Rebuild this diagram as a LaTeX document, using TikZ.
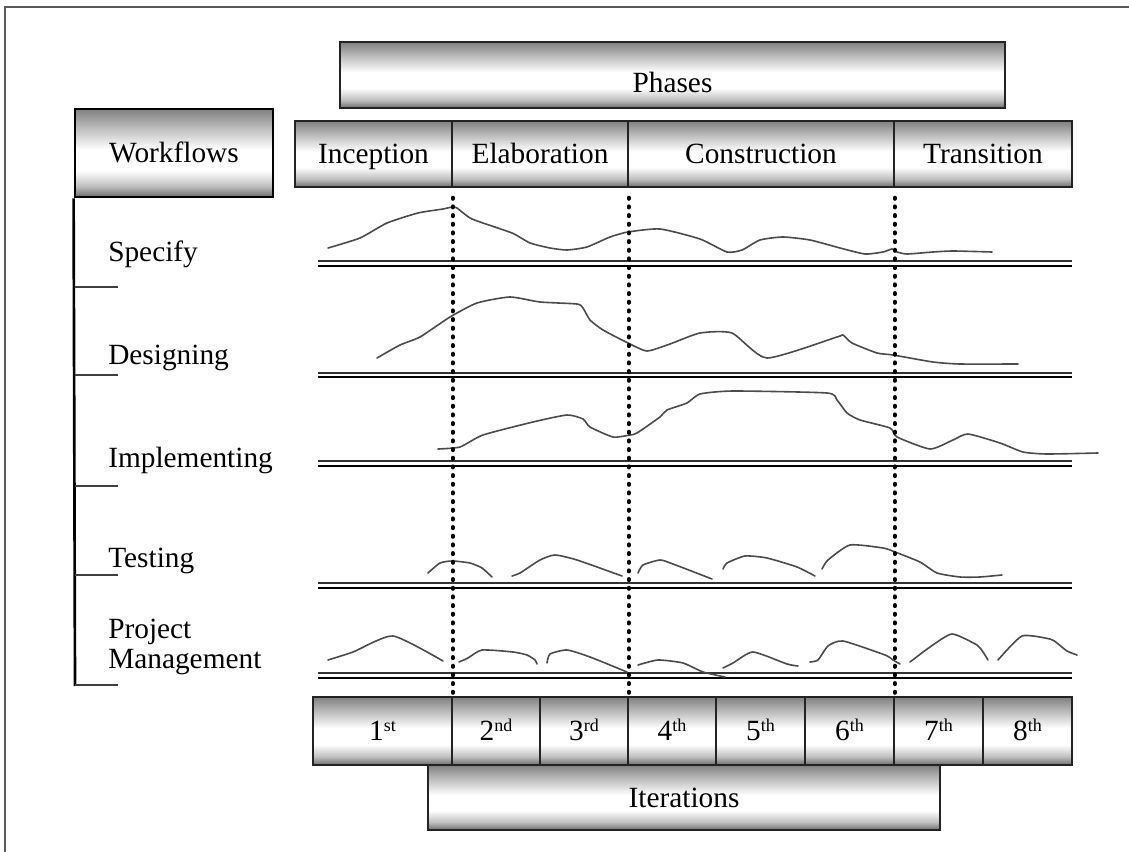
\documentclass[tikz,border=0pt]{standalone}
\usepackage{fontspec}
\setmainfont{Liberation Serif}
\usetikzlibrary{calc}

\definecolor{metaltop}{RGB}{128,128,128}
\definecolor{metalmid}{RGB}{190,190,190}
\definecolor{metalbot}{RGB}{108,108,108}
\definecolor{edge}{RGB}{35,35,35}
\definecolor{ink}{RGB}{75,75,75}
\definecolor{frame}{RGB}{90,90,90}

% brushed-metal look: dark at top and bottom, white band just below the middle
\pgfdeclareverticalshading{metal}{100bp}{color(0bp)=(metalbot); color(25bp)=(metalbot); color(31bp)=(metalmid); color(40bp)=(white); color(52bp)=(white); color(64bp)=(metalmid); color(75bp)=(metaltop); color(100bp)=(metaltop)}

\newcommand{\ordn}[2]{#1\raisebox{7pt}{\fontsize{13.5}{13.5}\selectfont #2}}

\tikzset{
  sz/.style 2 args={minimum width={#1*0.75pt}, minimum height={#2*0.75pt}},
  metalbox/.style={draw=edge, line width=1.1pt, shading=metal, inner sep=0pt,
                   font=\fontsize{22}{24}\selectfont, text height=15pt, text depth=0.4pt},
  headbox/.style={metalbox, line width=2.1pt, draw=black},
  boxtext/.style={font=\fontsize{22}{24}\selectfont, inner sep=0pt, text height=15pt, text depth=0.4pt},
  wflabel/.style={font=\fontsize{22}{23}\selectfont, inner sep=0pt},
  railtop/.style={draw=black!80, line width=1.1pt},
  railbot/.style={draw=black, line width=2pt},
  tick/.style={draw=black!75, line width=0.9pt},
  spine/.style={draw=black, line width=2pt},
  effort/.style={draw=ink, line width=1.2pt, line join=round, line cap=round},
  phasedots/.style={draw=black, line width=3pt, line cap=round, dash pattern=on 0.8pt off 5.7pt},
}

\begin{document}
\begin{tikzpicture}[x=0.75pt, y=-0.75pt]
\useasboundingbox (0,0) rectangle (1129,852);

% outer frame (top and left edges)
\draw[frame, line width=1pt] (5,852) -- (5,7) -- (1129,7);

% header boxes
\node[metalbox, sz={665}{66}] (phases) at (672.5,75) {};
\node[boxtext] (phasestext) at (672.5,83) {Phases};
\node[headbox, sz={198}{88}] (workflows) at (174,153) {Workflows};

% phase row
\node[metalbox, sz={157}{66}] (inc) at (373.5,154) {Inception};
\node[metalbox, sz={176}{66}] (ela) at (540,154) {Elaboration};
\node[metalbox, sz={266}{66}] (con) at (761,154) {Construction};
\node[metalbox, sz={178}{66}] (tra) at (983,154) {Transition};

% iteration row
\node[metalbox, sz={139}{68}] (it1) at (382.5,731) {\ordn{1}{st}};
\node[metalbox, sz={88}{68}] (it2) at (496,731) {\ordn{2}{nd}};
\node[metalbox, sz={88}{68}] (it3) at (584,731) {\ordn{3}{rd}};
\node[metalbox, sz={88}{68}] (it4) at (672,731) {\ordn{4}{th}};
\node[metalbox, sz={89}{68}] (it5) at (760.5,731) {\ordn{5}{th}};
\node[metalbox, sz={89}{68}] (it6) at (849.5,731) {\ordn{6}{th}};
\node[metalbox, sz={89}{68}] (it7) at (938.5,731) {\ordn{7}{th}};
\node[metalbox, sz={89}{68}] (it8) at (1027.5,731) {\ordn{8}{th}};
\node[metalbox, sz={512}{65}] (iters) at (684,797.5) {Iterations};

% workflow spine with ticks
\coordinate (spineend) at (75,686);
\draw[spine] (workflows.south west) -- (spineend);
\foreach \ty in {287,375,486,575,685}
  \draw[tick] (75,\ty) -- (118,\ty);

% workflow labels
\node[wflabel, anchor=base west] (lspec) at (108,262) {Specify};
\node[wflabel, anchor=base west] (ldes) at (108,365) {Designing};
\node[wflabel, anchor=base west] (limp) at (108,467) {Implementing};
\node[wflabel, anchor=base west] (ltest) at (108,567) {Testing};
\node[wflabel, anchor=west, align=left] (lpm) at (108,647) {Project\\Management};

% base rails of each workflow
\foreach \ya/\yb in {261/266, 373/377, 461/466, 583/588, 673/678} {
  \draw[railtop] (318,\ya) -- (1072,\ya);
  \draw[railbot] (318,\yb) -- (1072,\yb);
}

% effort curves
\draw[effort] plot[smooth, tension=0.35] coordinates {(328,248) (360,238) (387,223) (418,213) (443,209) (452,207) (457,208) (472,219) (512,233) (530,243) (550,248) (567,250) (587,247) (610,237) (628,232) (660,229) (700,239) (727,252) (742,250) (760,240) (783,237) (810,240) (840,248) (865,254) (883,252) (892,249) (897,252) (907,254) (933,252) (953,251) (992,252)};

\draw[effort] plot[smooth, tension=0.35] coordinates {(377,358) (400,345) (420,337) (450,317) (477,303) (510,297) (540,302) (577,304) (583,308) (590,320) (603,330) (628,343) (647,351) (670,344) (700,333) (732,333) (767,358) (837,337) (843,335) (852,343) (877,353) (893,355) (933,362) (960,364) (1018,364)};

\draw[effort] plot[smooth, tension=0.35] coordinates {(438,449) (460,447) (483,435) (533,422) (567,415) (583,419) (590,427) (613,437) (630,435) (637,433) (660,417) (667,410) (687,403) (700,394) (733,391) (827,393) (837,400) (847,413) (860,420) (890,428) (897,437) (930,449) (953,440) (968,434) (1000,443) (1023,452) (1047,454) (1098,453)};

% testing bursts
\draw[effort] plot[smooth, tension=0.35] coordinates {(428,573) (440,563) (452,561) (470,563) (482,568) (492,577)};
\draw[effort] plot[smooth, tension=0.35] coordinates {(512,576) (520,573) (540,560) (555,555) (577,560) (622,576)};
\draw[effort] plot[smooth, tension=0.35] coordinates {(638,573) (643,565) (660,560) (673,564) (712,579)};
\draw[effort] plot[smooth, tension=0.35] coordinates {(723,569) (727,563) (745,556) (767,558) (797,567) (815,576)};
\draw[effort] plot[smooth, tension=0.35] coordinates {(822,569) (828,560) (850,545) (883,548) (895,552) (920,562) (937,573) (960,577) (980,577) (1002,575)};

% project management bursts
\draw[effort] plot[smooth, tension=0.35] coordinates {(328,660) (353,652) (393,636) (443,661)};
\draw[effort] plot[smooth, tension=0.35] coordinates {(459,662) (468,658) (482,650) (513,652) (527,655) (535,660) (537,664)};
\draw[effort] plot[smooth, tension=0.35] coordinates {(547,663) (550,654) (567,650) (590,657) (627,672)};
\draw[effort] plot[smooth, tension=0.35] coordinates {(638,665) (658,660) (683,663) (703,672) (725,677)};
\draw[effort] plot[smooth, tension=0.35] coordinates {(723,668) (733,663) (753,652) (787,664) (798,666)};
\draw[effort] plot[smooth, tension=0.35] coordinates {(810,662) (818,660) (828,646) (843,641) (885,655) (893,660) (900,664)};
\draw[effort] plot[smooth, tension=0.35] coordinates {(910,662) (930,647) (952,634) (977,645) (983,652) (988,660)};
\draw[effort] plot[smooth, tension=0.35] coordinates {(998,660) (1022,636) (1050,639) (1057,643) (1067,651) (1077,655)};

% phase boundaries carried down to the iterations
\draw[phasedots] ($(inc.south east)+(0,10)$) -- (it1.north east);
\draw[phasedots] ($(ela.south east)+(0,10)$) -- (it3.north east);
\draw[phasedots] ($(con.south east)+(0,10)$) -- (it6.north east);
\end{tikzpicture}
\end{document}
